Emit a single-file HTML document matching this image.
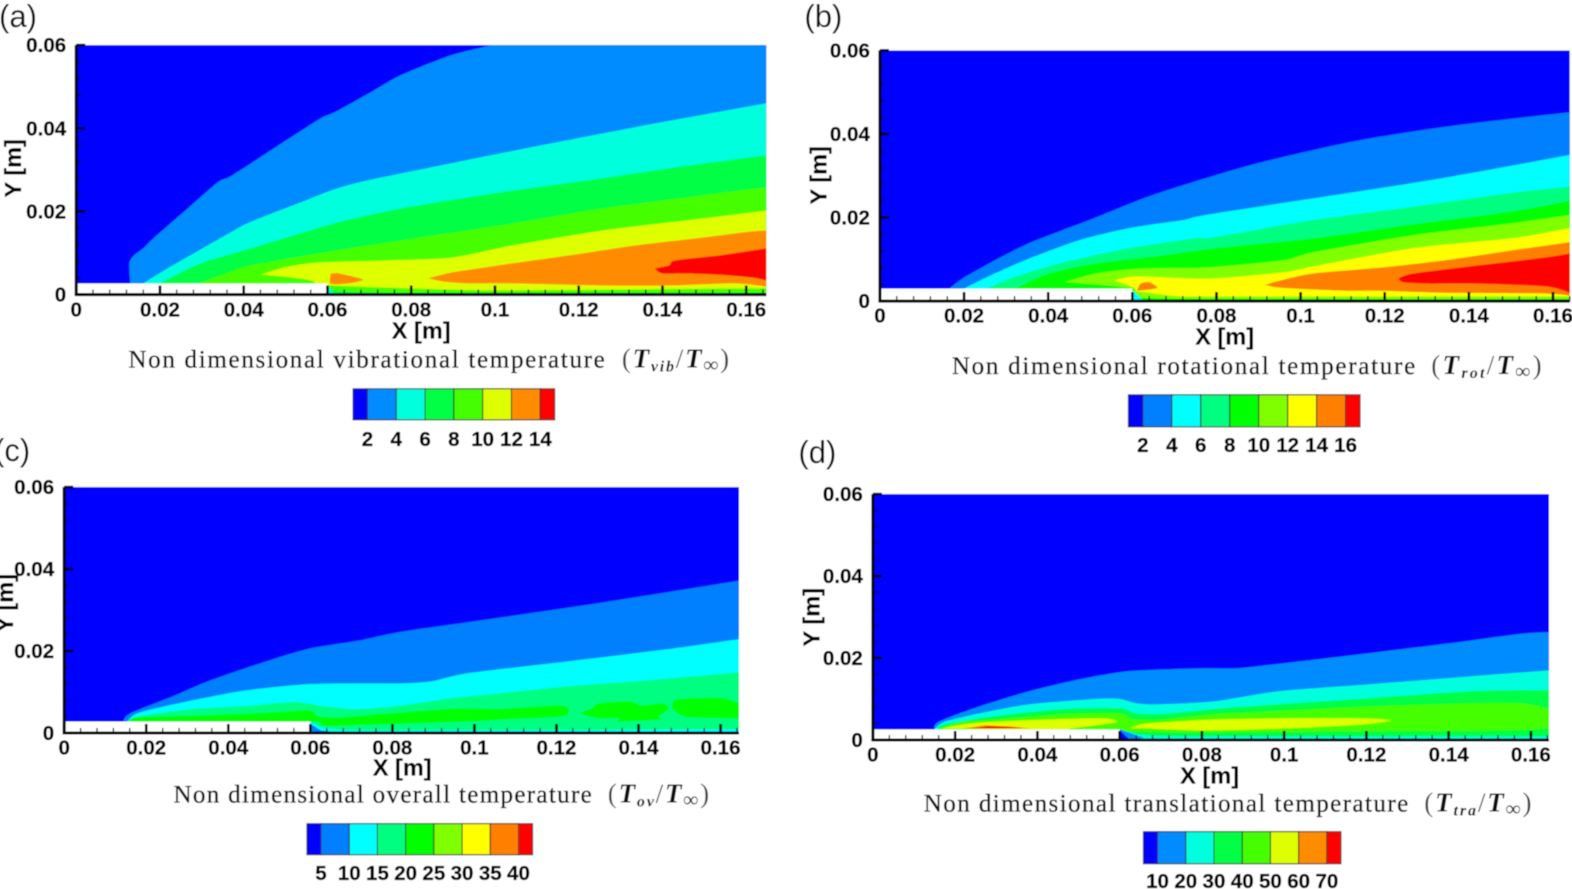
<!DOCTYPE html>
<html lang="en">
<head>
<meta charset="utf-8">
<title>Non dimensional temperature contours</title>
<style>
html,body{margin:0;padding:0;background:#fff;width:1572px;height:889px;overflow:hidden}
svg{display:block}
.tick{font:bold 20.5px "Liberation Sans",sans-serif;fill:#000;stroke:#000;stroke-width:.3px}
.axt{font:bold 23.5px "Liberation Sans",sans-serif;fill:#000;stroke:#000;stroke-width:.2px}
.pl{font:31px "Liberation Sans",sans-serif;fill:#111}
.ttl{font:25px "Liberation Serif",serif;fill:#111;stroke:#111;stroke-width:.35px}
.mth{font:italic bold 27px "Liberation Serif","DejaVu Serif",serif;fill:#111}
.sub{font-size:16px}
.inf{font-size:21px;font-style:normal}
.up{font-style:normal;font-weight:normal;fill:#444}
</style>
</head>
<body>
<svg id="chart" xmlns="http://www.w3.org/2000/svg" width="1572" height="889" viewBox="0 0 1567.3 887.2" preserveAspectRatio="none">
<defs>
<filter id="soft" x="-2%" y="-2%" width="104%" height="104%"><feGaussianBlur stdDeviation="0.55"/></filter>
</defs>
<g id="root" filter="url(#soft)">
<rect x="-20" y="-20" width="1620" height="940" fill="#fff"/>
<g id="plots"></g>

<text class="pl" x="-1" y="27">(a)</text>
<text class="pl" x="802" y="27">(b)</text>
<text class="pl" x="-6" y="460">(c)</text>
<text class="pl" x="796" y="462">(d)</text>

<text class="axt" x="420" y="338" text-anchor="middle">X [m]</text>
<text class="axt" x="1221" y="344" text-anchor="middle">X [m]</text>
<text class="axt" x="401" y="774" text-anchor="middle">X [m]</text>
<text class="axt" x="1206" y="782" text-anchor="middle">X [m]</text>
<text class="axt" transform="translate(21,168) rotate(-90)" text-anchor="middle">Y [m]</text>
<text class="axt" transform="translate(824,175) rotate(-90)" text-anchor="middle">Y [m]</text>
<text class="axt" transform="translate(13,602) rotate(-90)" text-anchor="middle">Y [m]</text>
<text class="axt" transform="translate(817,616) rotate(-90)" text-anchor="middle">Y [m]</text>

<text class="ttl" x="128" y="367" textLength="475" lengthAdjust="spacing">Non dimensional vibrational temperature</text>
<text class="mth" x="620" y="367" textLength="107" lengthAdjust="spacing"><tspan class="up">(</tspan>T<tspan class="sub" dy="4">vib</tspan><tspan class="up" dy="-4">/</tspan>T<tspan class="inf" dy="4">∞</tspan><tspan class="up" dy="-4">)</tspan></text>
<text class="ttl" x="949" y="373" textLength="462" lengthAdjust="spacing">Non dimensional rotational temperature</text>
<text class="mth" x="1427" y="373" textLength="110" lengthAdjust="spacing"><tspan class="up">(</tspan>T<tspan class="sub" dy="4">rot</tspan><tspan class="up" dy="-4">/</tspan>T<tspan class="inf" dy="4">∞</tspan><tspan class="up" dy="-4">)</tspan></text>
<text class="ttl" x="173" y="801" textLength="417" lengthAdjust="spacing">Non dimensional overall temperature</text>
<text class="mth" x="606" y="801" textLength="101" lengthAdjust="spacing"><tspan class="up">(</tspan>T<tspan class="sub" dy="4">ov</tspan><tspan class="up" dy="-4">/</tspan>T<tspan class="inf" dy="4">∞</tspan><tspan class="up" dy="-4">)</tspan></text>
<text class="ttl" x="921" y="810" textLength="483" lengthAdjust="spacing">Non dimensional translational temperature</text>
<text class="mth" x="1420" y="810" textLength="107" lengthAdjust="spacing"><tspan class="up">(</tspan>T<tspan class="sub" dy="4">tra</tspan><tspan class="up" dy="-4">/</tspan>T<tspan class="inf" dy="4">∞</tspan><tspan class="up" dy="-4">)</tspan></text>
</g>
</svg>
<script>
// ---------- shared data ----------
const xTickValues = [0,0.02,0.04,0.06,0.08,0.1,0.12,0.14,0.16];
const yTickValues = [0,0.02,0.04,0.06];
const colorsEight = ['#0000ff','#008cff','#00ffdd','#00ff44','#44ff00','#ddff00','#ff8c00','#ff0000'];
const colorsNine  = ['#0000ff','#0080ff','#00ffff','#00ff80','#00ff00','#80ff00','#ffff00','#ff8000','#ff0000'];
const levelsA = [2,4,6,8,10,12,14];
const levelsB = [2,4,6,8,10,12,14,16];
const levelsC = [5,10,15,20,25,30,35,40];
const levelsD = [10,20,30,40,50,60,70];

// ---------- panel (a) contours, x / y in mm ----------
const aBand1X = [12.9,12.7,14,16,18.4,26.6,33.8,37,46.5,50,58.4,62,70.4,77.6,89.6,99.2,102,164.8];
const aBand1Y = [2.7,7.7,9.6,11.1,13.5,20.7,27,28.5,34.7,37,42.4,44,48.7,52.8,57.6,60,61,61];
const aBand2X = [16,21.8,37.6,41.7,53.7,61.6,69.7,89.6,113.5,137.5,164.8];
const aBand2Y = [2.7,6.3,15.4,17.5,22.2,25.3,27.5,31.6,36.4,41,46];
const aBand3X = [20.1,29.7,41.7,61.6,77.6,101.6,122.4,144.7,164.8];
const aBand3Y = [2.7,7.5,11.1,17.1,20.7,24.6,27.5,30.8,33.5];
const aBand4X = [29,37.6,41.7,57.7,81.7,104,125.5,149.5,164.8];
const aBand4Y = [2.7,5.8,7,9.9,13.7,17.1,20.7,23.9,25.8];
const aYellowX = [44.1,49.6,57.7,73.5,89.6,104,125.5,149.5,164.8,164.8,60.1,56];
const aYellowY = [4.8,6.5,7.7,8.2,8.9,11.8,15.4,18.3,20.2,0,0,3.4];
const aOrangeSmallX = [60.8,62.7,68.5,64.9,60.8];
const aOrangeSmallY = [5,5.1,3.6,2.7,2.6];
const aOrangeX = [84.1,89.6,97.5,104,117.6,133.4,149.5,161.4,164.8,164.8,157.4,141.6,125.5,104,93.7,87.9];
const aOrangeY = [3.9,5.3,6.5,7.5,9.4,11.8,13.7,15.2,15.4,1.9,2.7,2.2,2.2,2.7,2.7,3.1];
const aRedX = [138.2,141.6,143,153.5,164.8,164.8,161.4,153.5,145.4,139.9];
const aRedY = [6.3,7,8.2,9.4,11.1,3.4,4.1,4.8,5.1,5.1];
const aWallLimeX = [60.1,73,89.6,104,164.8];
const aWallLimeY = [2.2,1.7,1.2,1,1.5];
const aWallGreenX = [60.8,75,164.8];
const aWallGreenY = [1.2,0.5,0.5];
const aWedgeX = [60.1,61.6,60.1];
const aWedgeY = [2.2,0.2,0.2];

// ---------- panel (b) contours ----------
const bBand1X = [16.5,19.6,27.4,35.5,43.4,49.8,64.9,88.7,112.5,136.4,164];
const bBand1Y = [3,5.4,9.8,13.9,17,19.4,25.4,32.7,38.2,42,45.2];
const bBand2X = [20,26,35.5,47.4,59.4,72,79.7,130.5,164];
const bBand2Y = [3,6,10.2,14.6,17.5,19.4,21,28.9,35];
const bBand3X = [25.5,31.5,43.4,59.4,75.2,79.2,103,126,150.2,164];
const bBand3Y = [3,5.6,9.2,12.7,15.1,15.3,19.4,22.5,25.9,27.4];
const bBand4X = [32.2,40.3,51.3,67.2,79.2,103,126.9,150.7,164];
const bBand4Y = [3,6.6,9,10.9,12.6,15,18.4,21.5,24];
const bLimeX = [43.9,51.3,62,78.4,95.9,103,126.9,150.7,164,164,60,60];
const bLimeY = [4.5,6.6,7.8,8.1,9.8,11.7,15.8,18.7,20.6,0,0,3];
const bYellowX = [55.8,60.8,78.4,95.9,103,126.9,150.7,164,164,60.6,60.6];
const bYellowY = [4.9,5.9,5.4,6.9,8.3,12.7,15.1,17.5,0,0,3];
const bOrangeSmallX = [61.3,62,64.1,66,64.1,61.3];
const bOrangeSmallY = [3,4.2,4.5,3.2,2.8,2.5];
const bOrangeX = [91.6,95.1,103,119,134.7,150.7,164,164,158.6,134.7,119,110.9,99,94.2];
const bOrangeY = [3.9,4.9,6.6,8,9.8,12.2,14.1,1.3,1.8,2,2.5,2.5,3,3.3];
const bRedX = [123.3,126.9,142.8,158.6,164,164,158.6,142.8,130.9,124.5];
const bRedY = [5.4,6.6,8.6,10.5,11.4,2,3.5,4.2,4.2,4.5];
const bWallLimeX = [60.3,69.6,79,164];
const bWallLimeY = [2.5,1.3,1.1,1.1];
const bWallGreenX = [60.3,69.6,164];
const bWallGreenY = [1.6,0.6,0.5];
const bWedgeX = [60,62.5,60];
const bWedgeY = [2.6,0.3,0];

// ---------- panel (c) contours ----------
const cBand1X = [14.4,16.1,26.6,35,47.2,59.4,71.6,82.2,101,131,164.5];
const cBand1Y = [2.8,4.8,9,12.6,16.8,20.5,22.5,24.7,27.4,31.8,37.2];
const cBand2X = [15.4,17.8,26.6,43,59.4,75.6,82.2,89.5,98.5,123,147.4,164.5];
const cBand2Y = [2.8,4.8,7,10.2,11.9,12.1,12.1,12.6,14.6,17.5,20.5,22.9];
const cBand3X = [15.6,17.8,30.8,43,55.2,59.4,63.3,71.6,82.2,94.4,106.6,123,139.1,164.5];
const cBand3Y = [2.8,4,5.8,6.5,7.5,7.2,6.5,5.8,6.7,8.5,9.7,11.4,12.6,14.8];
const cGreen1X = [16,17.8,35,51.1,59.9,61.9,67.5,82.2,94.4,106.6,120.5,123,121.3,106.6,98.5,82.2,67.5,61.9,59.9];
const cGreen1Y = [2.8,3.8,4.3,5,5.5,4,3.8,5,5.9,5.9,6.7,5.8,4,3.3,2.8,2.3,1.8,1.8,2.8];
const cGreen2X = [125.4,128.6,130.3,137.7,140.8,145.7,147.4,145,145,135.2,135.2,130.3];
const cGreen2Y = [4.8,6,7.2,7.7,6.7,7.2,6,4,3.3,2.8,3.6,3.6];
const cGreen3X = [148.2,149.4,160.4,164.5,164.5,160.4,151.3];
const cGreen3Y = [6,8.2,8.5,7.2,3.6,3.6,4];
const cWallCyanX = [59.9,64.3,77.3,164.5];
const cWallCyanY = [2.8,1.1,0.6,0.9];
const cWedgeX = [59.9,62.6,67.5,59.9];
const cWedgeY = [2.3,0.6,0.1,0];

// ---------- panel (d) contours ----------
const dBand1X = [14.9,16.1,25.9,38,50.2,62.4,80.2,88.3,100.5,120.7,141,157.5,164.4];
const dBand1Y = [2.8,4.5,8.2,11.9,14.8,16.8,17.5,17.5,18.8,21.2,23.7,25.9,26.3];
const dBand2X = [15.1,17.6,25.9,38,54.1,60,63.9,68.8,82.7,98.8,121,146.1,164.4];
const dBand2Y = [2.8,4.5,6.5,8.7,10,10,9,8.7,9.4,11.9,13.6,15.6,17];
const dBand3X = [15.9,17.6,29.8,46.1,60,63.9,70.5,82.7,98.8,121,146.1,164.4];
const dBand3Y = [2.8,3.8,5.8,7.5,7.7,6.5,6.3,7.5,8.7,10.2,11.9,12.1];
const dBand4X = [16.3,21.7,29.8,46.1,60,62.4,64.9,70.5,82.7,96.6,121,145.4,157.6,164.4];
const dBand4Y = [2.8,4.5,5,6.3,6.5,5.3,5,5,6.3,7,8.2,9,9,7.7];
const dYellowLeftX = [16.8,21.7,29.8,42,55.9,59.5,55.9,47.8,46.1];
const dYellowLeftY = [2.8,3.8,4.5,5,5.3,4.5,3.8,2.8,2.6];
const dOrangeLeftX = [21.7,27.3,33.9,38.3];
const dOrangeLeftY = [2.8,3.6,3.3,2.8];
const dRedLeftX = [24,28,33,36.5];
const dRedLeftY = [2.8,3.4,3.2,2.8];
const dYellowRightX = [62.7,66.3,82.7,99,119.2,126,119.2,100.5,80.2,66.3];
const dYellowRightY = [2.8,4,5,5.3,5.3,4.8,3.8,2.8,2.3,2.8];
const dWallGreenX = [59.5,80.2,121,153.4,164.4];
const dWallGreenY = [2.1,1.8,2.1,2.3,2.8];
const dWallCyanX = [60,65.6,80.2,164.4];
const dWallCyanY = [2.6,1.3,0.9,0.9];
const dWedgeBlueX = [60,66,60];
const dWedgeBlueY = [2.6,0.5,0];
const dWedgeDarkX = [60,62.4,60];
const dWedgeDarkY = [2.4,0.1,0];

// ---------- panel layout ----------
const panels = [
 {id:'a',x0:76,xk:4.175,y0:294,yk:4.15,xMax:164.8,wall:2.7,wallEnd:60,colors:colorsEight,
  levels:levelsA,legMin:1,legMax:15,legL:352,legR:553,legT:388,legB:419,legLab:445,xLab:316,
  layers:[[aBand1X,aBand1Y,1,1],[aBand2X,aBand2Y,2,1],[aBand3X,aBand3Y,3,1],[aBand4X,aBand4Y,4,1],
   [aYellowX,aYellowY,5,0],[aOrangeSmallX,aOrangeSmallY,6,0],[aOrangeX,aOrangeY,6,0],[aRedX,aRedY,7,0],
   [aWallLimeX,aWallLimeY,4,1],[aWallGreenX,aWallGreenY,3,1],[aWedgeX,aWedgeY,2,0]]},
 {id:'b',x0:877.3,xk:4.194,y0:300.5,yk:4.17,xMax:164,wall:3,wallEnd:60,colors:colorsNine,
  levels:levelsB,legMin:1,legMax:17,legL:1125,legR:1356,legT:394,legB:426,legLab:451,xLab:322,
  layers:[[bBand1X,bBand1Y,1,1],[bBand2X,bBand2Y,2,1],[bBand3X,bBand3Y,3,1],[bBand4X,bBand4Y,4,1],
   [bLimeX,bLimeY,5,0],[bYellowX,bYellowY,6,0],[bOrangeSmallX,bOrangeSmallY,7,0],[bOrangeX,bOrangeY,7,0],[bRedX,bRedY,8,0],
   [bWallLimeX,bWallLimeY,5,1],[bWallGreenX,bWallGreenY,4,1],[bWedgeX,bWedgeY,2,0]]},
 {id:'c',x0:64,xk:4.09,y0:731.5,yk:4.09,xMax:164.5,wall:2.8,wallEnd:60,colors:colorsNine,
  levels:levelsC,legMin:2.5,legMax:42.5,legL:306,legR:531,legT:822,legB:853,legLab:878,xLab:753,
  layers:[[cBand1X,cBand1Y,1,1],[cBand2X,cBand2Y,2,1],[cBand3X,cBand3Y,3,1],
   [cGreen1X,cGreen1Y,4,0],[cGreen2X,cGreen2Y,4,0],[cGreen3X,cGreen3Y,4,0],
   [cWallCyanX,cWallCyanY,2,1],[cWedgeX,cWedgeY,1,0]]},
 {id:'d',x0:870.3,xk:4.1,y0:738.5,yk:4.09,xMax:164.4,wall:2.6,wallEnd:60,colors:colorsEight,
  levels:levelsD,legMin:5,legMax:75,legL:1140,legR:1337,legT:830,legB:862,legLab:886,xLab:760,
  layers:[[dBand1X,dBand1Y,1,1],[dBand2X,dBand2Y,2,1],[dBand3X,dBand3Y,3,1],[dBand4X,dBand4Y,4,1],
   [dYellowLeftX,dYellowLeftY,5,0],[dOrangeLeftX,dOrangeLeftY,6,0],[dRedLeftX,dRedLeftY,7,0],[dYellowRightX,dYellowRightY,5,0],
   [dWallGreenX,dWallGreenY,3,1],[dWallCyanX,dWallCyanY,2,1],[dWedgeBlueX,dWedgeBlueY,1,0],[dWedgeDarkX,dWedgeDarkY,0,0]]}
];

const NS = 'http://www.w3.org/2000/svg';
const plots = document.getElementById('plots');
const defs = document.querySelector('defs');
function make(tag, attrs, parent){
  const n = document.createElementNS(NS, tag);
  for (const k in attrs) n.setAttribute(k, attrs[k]);
  parent.appendChild(n);
  return n;
}
// Smooth curve through contour points (Catmull-Rom, gentle tension).
// Points flagged in `corner` keep a sharp vertex (domain edges, tips).
function curveThrough(pts, closed, corner){
  const n = pts.length;
  const at = function(i){
    if (closed) return pts[(i + n) % n];
    return pts[Math.max(0, Math.min(n - 1, i))];
  };
  const isCorner = function(i){
    const k = closed ? (i + n) % n : Math.max(0, Math.min(n - 1, i));
    return corner[k];
  };
  let d = 'M' + pts[0][0].toFixed(1) + ' ' + pts[0][1].toFixed(1);
  const segs = closed ? n : n - 1;
  for (let i = 0; i < segs; i++) {
    const p0 = at(i - 1), p1 = at(i), p2 = at(i + 1), p3 = at(i + 2);
    const c1x = isCorner(i) ? p1[0] : p1[0] + (p2[0] - p0[0]) / 8;
    const c1y = isCorner(i) ? p1[1] : p1[1] + (p2[1] - p0[1]) / 8;
    const c2x = isCorner(i + 1) ? p2[0] : p2[0] - (p3[0] - p1[0]) / 8;
    const c2y = isCorner(i + 1) ? p2[1] : p2[1] - (p3[1] - p1[1]) / 8;
    d += 'C' + c1x.toFixed(1) + ' ' + c1y.toFixed(1) + ' ' + c2x.toFixed(1) + ' ' + c2y.toFixed(1) + ' ' + p2[0].toFixed(1) + ' ' + p2[1].toFixed(1);
  }
  return d;
}

panels.forEach(function(p){
  const xPx = function(mm){ return p.x0 + mm * p.xk; };
  const yPx = function(mm){ return p.y0 - mm * p.yk; };
  const g = make('g', {}, plots);
  
  

  const clip = make('clipPath', {id:'clip-' + p.id}, defs);
  make('rect', {x:xPx(0), y:yPx(60), width:xPx(p.xMax) - xPx(0), height:yPx(0) - yPx(60)}, clip);

  const field = make('g', {'clip-path':'url(#clip-' + p.id + ')'}, g);
  
  

  const base = make('rect', {x:xPx(0), y:yPx(60), width:xPx(p.xMax) - xPx(0), height:yPx(0) - yPx(60), fill:p.colors[0]}, field);
  
  

  p.layers.forEach(function(layer, i){
    const xs = layer[0], ys = layer[1], closeToAxis = layer[3];
    const pts = xs.map(function(v, j){ return [xPx(v), yPx(ys[j])]; });
    const corner = xs.map(function(v, j){ return j === 0 || v >= p.xMax - 0.01 || ys[j] <= 0; });
    let d;
    if (closeToAxis) {
      d = curveThrough(pts, false, corner)
        + 'L' + xPx(xs[xs.length - 1]).toFixed(1) + ' ' + yPx(0).toFixed(1)
        + 'L' + xPx(xs[0]).toFixed(1) + ' ' + yPx(0).toFixed(1) + 'Z';
    } else if (pts.length <= 4) {
      d = 'M' + pts.map(function(q){ return q[0].toFixed(1) + ' ' + q[1].toFixed(1); }).join('L') + 'Z';
    } else {
      d = curveThrough(pts, true, corner) + 'Z';
    }
    const shape = make('path', {d:d, fill:p.colors[layer[2]]}, field);
    
    
  });

  const wall = make('rect', {x:xPx(0), y:yPx(p.wall), width:xPx(p.wallEnd) - xPx(0), height:yPx(0) - yPx(p.wall), fill:'#fff'}, g);
  
  

  // minor ticks every 0.004 m on both axes
  for (let t = 0; t <= p.xMax / 4; t++) {
    const mx = make('line', {x1:xPx(t * 4), x2:xPx(t * 4), y1:yPx(0), y2:yPx(0) - 5, stroke:'#111', 'stroke-width':1.3}, g);
    
    
  }
  for (let t = 0; t <= 15; t++) {
    const my = make('line', {x1:xPx(0), x2:xPx(0) + 5, y1:yPx(t * 4), y2:yPx(t * 4), stroke:'#111', 'stroke-width':1.3}, g);
    
    
  }
  xTickValues.forEach(function(v){
    const px = xPx(v * 1000);
    const tk = make('line', {x1:px, x2:px, y1:yPx(0), y2:yPx(0) - 9, stroke:'#000', 'stroke-width':2.6}, g);
    
    
    const lb = make('text', {x:px, y:p.xLab, 'text-anchor':'middle', 'class':'tick'}, g);
    lb.textContent = String(v);
    
    
  });
  yTickValues.forEach(function(v){
    const py = yPx(v * 1000);
    const tk = make('line', {x1:xPx(0), x2:xPx(0) + 9, y1:py, y2:py, stroke:'#000', 'stroke-width':2.6}, g);
    
    
    const lb = make('text', {x:xPx(0) - 10, y:py + 7, 'text-anchor':'end', 'class':'tick'}, g);
    lb.textContent = String(v);
    
    
  });

  const xAxis = make('line', {x1:xPx(0) - 1.5, x2:xPx(p.xMax), y1:yPx(0), y2:yPx(0), stroke:'#000', 'stroke-width':3}, g);
  
  
  const yAxis = make('line', {x1:xPx(0), x2:xPx(0), y1:yPx(60), y2:yPx(0), stroke:'#000', 'stroke-width':3}, g);
  
  

  // legend
  const legPx = function(v){ return p.legL + (v - p.legMin) / (p.legMax - p.legMin) * (p.legR - p.legL); };
  const edges = [p.legMin].concat(p.levels, [p.legMax]);
  const leg = make('g', {}, g);
  
  
  for (let i = 0; i < edges.length - 1; i++) {
    const cell = make('rect', {x:legPx(edges[i]), y:p.legT, width:legPx(edges[i + 1]) - legPx(edges[i]), height:p.legB - p.legT, fill:p.colors[i], stroke:'#333', 'stroke-width':1}, leg);
    
    
  }
  p.levels.forEach(function(v){
    const lb = make('text', {x:legPx(v), y:p.legLab, 'text-anchor':'middle', 'class':'tick'}, leg);
    lb.textContent = String(v);
    
    
  });
});
</script>
</body>
</html>
